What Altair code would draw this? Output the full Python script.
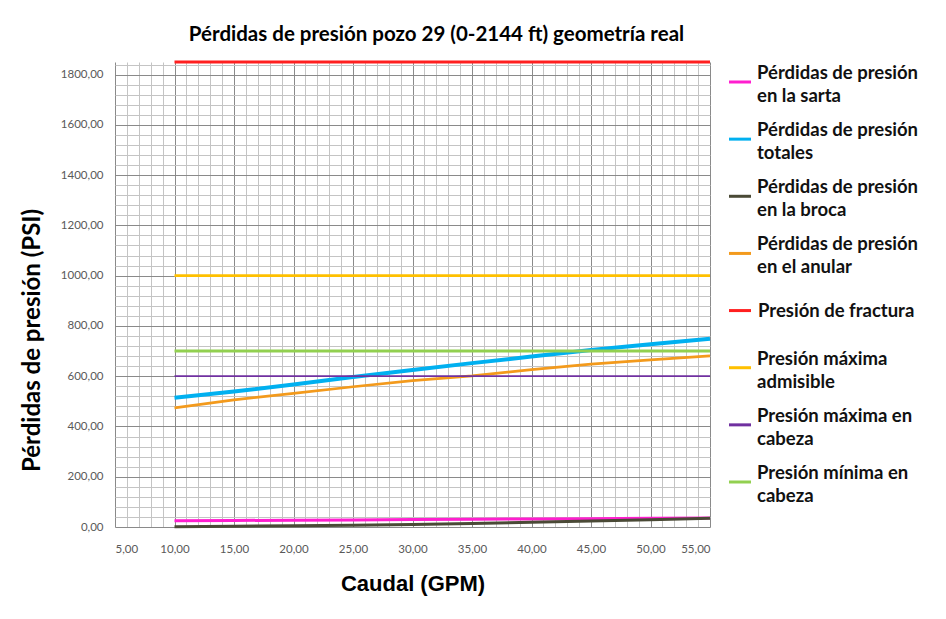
import altair as alt
import pandas as pd

# ---- data ----
caudal = [10, 15, 20, 25, 30, 35, 40, 45, 50, 55]
sarta = [25, 26, 27, 28, 30, 31, 32, 33, 35, 36]
totales = [514, 539, 567, 597, 625, 652, 678, 704, 727, 749]
broca = [1, 3, 5, 7, 10, 14, 19, 24, 29, 35]
anular = [474, 506, 532, 558, 582, 601, 626, 648, 665, 681]
fractura = [1850] * 10
admisible = [1000] * 10
max_cabeza = [600] * 10
min_cabeza = [700] * 10

series_names = [
    "Pérdidas de presión en la sarta",
    "Pérdidas de presión totales",
    "Pérdidas de presión en la broca",
    "Pérdidas de presión en el anular",
    "Presión de fractura",
    "Presión máxima admisible",
    "Presión máxima en cabeza",
    "Presión mínima en cabeza",
]
legend_lines = [
    ["Pérdidas de presión", "en la sarta"],
    ["Pérdidas de presión", "totales"],
    ["Pérdidas de presión", "en la broca"],
    ["Pérdidas de presión", "en el anular"],
    ["Presión de fractura"],
    ["Presión máxima", "admisible"],
    ["Presión máxima en", "cabeza"],
    ["Presión mínima en", "cabeza"],
]
series_values = [sarta, totales, broca, anular, fractura, admisible, max_cabeza, min_cabeza]
colors = ["#FF1ECF", "#00B0F0", "#4A4A36", "#F39A1C", "#FF1F1F", "#FFC000", "#7030A0", "#92D050"]
widths = [3, 4, 3, 2.75, 3, 2.75, 1.75, 3]

x_ticks = list(range(5, 56))
y_ticks = list(range(0, 1850, 40))

title_text = "Pérdidas de presión pozo 29 (0-2144 ft) geometría real"

rows = []
for name, vals in zip(series_names, series_values):
    for q, v in zip(caudal, vals):
        rows.append({"caudal": q, "presion": v, "serie": name})
df = pd.DataFrame(rows)

legend_df = pd.DataFrame({
    "serie": series_names,
    "label": ["|".join(l) for l in legend_lines],
    "nlines": [len(l) for l in legend_lines],
})

color_scale = alt.Scale(domain=series_names, range=colors)

x_axis = alt.Axis(
    values=x_ticks,
    labelExpr="datum.value % 5 === 0 ? replace(format(datum.value, '.2f'), '.', ',') : ''",
    labelOverlap=False,
    labelFont="Lato",
    labelFontSize=11.5,
    labelColor="#595959",
    labelPadding=16,
    ticks=False,
    domain=False,
    grid=True,
    gridColor={"condition": {"test": "datum.value % 5 === 0", "value": "#8a8a8a"}, "value": "#c4c4c4"},
    gridWidth=1,
    title="Caudal (GPM)",
    titleFont="Liberation Sans",
    titleFontSize=22,
    titleFontWeight="bold",
    titleColor="#000000",
    titlePadding=19,
)

y_axis = alt.Axis(
    values=y_ticks,
    labelExpr="datum.value % 200 === 0 ? replace(format(datum.value, '.2f'), '.', ',') : ''",
    labelOverlap=False,
    labelFont="Lato",
    labelFontSize=11.5,
    labelColor="#595959",
    labelPadding=12,
    ticks=False,
    domain=False,
    grid=True,
    gridColor={"condition": {"test": "datum.value % 200 === 0", "value": "#8a8a8a"}, "value": "#c4c4c4"},
    gridWidth=1,
    title="Pérdidas de presión (PSI)",
    titleFont="Lato",
    titleFontSize=24,
    titleFontWeight="bold",
    titleColor="#000000",
    titlePadding=16,
    titleY=278,
)

lines = (
    alt.Chart(df)
    .mark_line()
    .encode(
        x=alt.X("caudal:Q", scale=alt.Scale(domain=[5, 55], nice=False, zero=False), axis=x_axis),
        y=alt.Y("presion:Q", scale=alt.Scale(domain=[0, 1850], nice=False), axis=y_axis),
        color=alt.Color("serie:N", sort=series_names, scale=color_scale, legend=None),
        strokeWidth=alt.StrokeWidth(
            "serie:N",
            scale=alt.Scale(type="ordinal", domain=series_names, range=widths),
            legend=None,
        ),
    )
)

# custom legend (entries positioned by a point scale over the series names)
legend_y = alt.Y(
    "serie:N",
    sort=series_names,
    axis=None,
    scale=alt.Scale(type="point", domain=series_names, range=[20, 420], padding=0),
)

legend_rules = (
    alt.Chart(legend_df)
    .mark_rule(strokeWidth=3)
    .encode(
        x=alt.value(614),
        x2=alt.value(636),
        y=legend_y,
        color=alt.Color("serie:N", sort=series_names, scale=color_scale, legend=None),
    )
)

text_style = dict(
    align="left",
    baseline="middle",
    font="Lato",
    fontSize=18.5,
    fontWeight="bold",
    color="#111111",
    lineHeight=23,
)

legend_text_multi = (
    alt.Chart(legend_df)
    .transform_filter("datum.nlines > 1")
    .transform_calculate(lines="split(datum.label, '|')")
    .mark_text(dy=-9, **text_style)
    .encode(x=alt.value(642), y=legend_y, text="lines:N")
)

legend_text_single = (
    alt.Chart(legend_df)
    .transform_filter("datum.nlines === 1")
    .mark_text(**text_style)
    .encode(x=alt.value(643), y=legend_y, text="label:N")
)

chart = (
    alt.layer(lines, legend_rules, legend_text_multi, legend_text_single)
    .resolve_scale(y="independent")
    .properties(
        width=595,
        height=465,
        autosize=alt.AutoSizeParams(type="none"),
        padding={"left": 107, "top": 54, "right": 228, "bottom": 70},
        title=alt.TitleParams(
            text=title_text,
            font="Lato",
            fontSize=20.5,
            fontWeight="bold",
            color="#000000",
            anchor="middle",
            dx=24,
            offset=11,
        ),
    )
    .configure_view(stroke=None)
)

chart.save("out.html", embed_options={"renderer": "svg", "actions": False})
